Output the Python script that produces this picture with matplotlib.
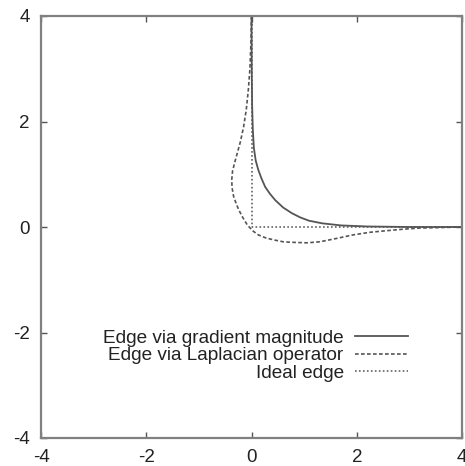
import matplotlib
matplotlib.use("Agg")
import matplotlib.pyplot as plt

# Edge via gradient magnitude (solid)
grad_x = [0.0, 0.004, 0.012, 0.025, 0.045, 0.08, 0.13, 0.19, 0.26, 0.35, 0.45, 0.6, 0.77, 0.93, 1.09, 1.34, 1.7, 2.2, 3.0, 4.0]
grad_y = [4.0, 3.0, 2.3, 1.85, 1.5, 1.26, 1.08, 0.92, 0.76, 0.63, 0.51, 0.37, 0.26, 0.18, 0.12, 0.07, 0.03, 0.01, 0.0, 0.0]

# Edge via Laplacian operator (dashed)
lap_x = [0.0, -0.01, -0.03, -0.06, -0.1, -0.15, -0.21, -0.27, -0.32, -0.36, -0.375, -0.37, -0.34, -0.29, -0.24, -0.16, -0.08, 0.02, 0.13, 0.28, 0.45, 0.6, 0.77, 1.05, 1.3, 1.6, 1.93, 2.25, 2.57, 2.9, 3.2, 3.6, 4.0]
lap_y = [4.0, 3.5, 3.0, 2.6, 2.22, 1.9, 1.62, 1.4, 1.22, 1.06, 0.9, 0.75, 0.58, 0.44, 0.32, 0.17, 0.04, -0.07, -0.15, -0.21, -0.25, -0.28, -0.29, -0.30, -0.28, -0.22, -0.15, -0.10, -0.07, -0.04, -0.02, -0.01, 0.0]

# Ideal edge (dotted)
ideal_x = [0.0, 0.0, 4.0]
ideal_y = [4.0, 0.0, 0.0]

labels = ["Edge via gradient magnitude", "Edge via Laplacian operator", "Ideal edge"]
ticks = [-4, -2, 0, 2, 4]

plt.rcParams['font.family'] = ['Liberation Sans', 'DejaVu Sans']

fig = plt.figure(figsize=(4.65, 4.66), dpi=100)
ax = fig.add_axes([41/465, 1-438/466, 421/465, 422/466])

c = '#555555'
ax.plot(grad_x, grad_y, color=c, lw=1.3, ls='-', label=labels[0])
ax.plot(lap_x, lap_y, color=c, lw=1.2, ls=(0, (2.2, 1.4)), label=labels[1])
ax.plot(ideal_x, ideal_y, color=c, lw=1.1, ls=(0, (1.1, 1.5)), label=labels[2])

ax.set_xlim(-4, 4)
ax.set_ylim(-4, 4)
ax.set_xticks(ticks)
ax.set_yticks(ticks)
ax.set_xticklabels([str(t) for t in ticks])
ax.set_yticklabels([str(t) for t in ticks])
ax.tick_params(direction='in', length=4.5, width=1.0, color='#555555',
               top=True, right=True, labelsize=13.5, pad=8, labelcolor='#222222')
for s in ax.spines.values():
    s.set_color('#808080')
    s.set_linewidth(1.6)

leg = ax.legend(loc='lower right', bbox_to_anchor=((408-41)/421, (438-382)/422),
                frameon=False, markerfirst=False, fontsize=13.7,
                handlelength=2.8, handletextpad=0.58, labelspacing=0.02,
                borderaxespad=0, borderpad=0)
for t in leg.get_texts():
    t.set_ha('right')
    t.set_color('#222222')

fig.savefig('out.png', dpi=100)
